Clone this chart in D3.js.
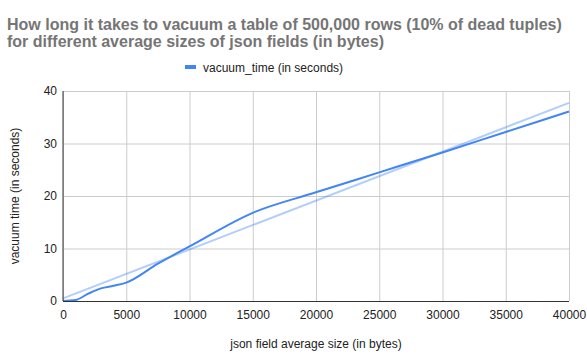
<!DOCTYPE html>
<html>
 <head>
  <style>
  body { margin: 0; background: #fff; }
  svg text { font-family: Arial, "Liberation Sans", sans-serif; }
  </style>
 </head>
 <body>
  <script src="https://cdnjs.cloudflare.com/ajax/libs/d3/7.8.3/d3.min.js"></script>
  <script>
   // data
   const jsonSizes = [0, 1000, 2000, 3000, 4000, 5000, 7500, 10000, 15000, 20000, 25000, 30000, 35000, 40000];
   const vacuumTimes = [0, 0.2, 1.4, 2.4, 2.9, 3.5, 7.1, 10.4, 16.8, 20.7, 24.5, 28.3, 32.2, 36.1];
   const trendEnds = [0, 40000];
   const trendValues = [0.5, 37.75];
   const xTicks = [0, 5000, 10000, 15000, 20000, 25000, 30000, 35000, 40000];
   const yTicks = [0, 10, 20, 30, 40];

   const w = 587, h = 364;
   const padL = 63, padR = 569, padT = 91, padB = 301;
   const blue = "#4285f4";

   const svg = d3.select("body").append("svg")
                 .attr("width", w)
                 .attr("height", h);

   const xScale = d3.scaleLinear().domain([0, 40000]).range([padL, padR]);
   const yScale = d3.scaleLinear().domain([0, 40]).range([padB, padT]);

   // title
   const title = svg.append("text")
      .attr("x", 7)
      .attr("y", 30)
      .attr("fill", "#757575")
      .attr("font-size", 16)
      .attr("font-weight", "bold");
   title.append("tspan").attr("x", 7).text("How long it takes to vacuum a table of 500,000 rows (10% of dead tuples)");
   title.append("tspan").attr("x", 7).attr("dy", 17).text("for different average sizes of json fields (in bytes)");

   // legend
   svg.append("rect")
      .attr("x", 185).attr("y", 65)
      .attr("width", 11).attr("height", 4)
      .attr("fill", blue);
   svg.append("text")
      .attr("x", 203).attr("y", 71.5)
      .attr("font-size", 12)
      .attr("fill", "#222")
      .text("vacuum_time (in seconds)");

   // grid
   const xAxis = d3.axisBottom(xScale).tickValues(xTicks).tickSize(-(padB - padT)).tickPadding(9).tickFormat(d3.format("d"));
   const yAxis = d3.axisLeft(yScale).tickValues(yTicks).tickSize(-(padR - padL)).tickPadding(6);

   const gx = svg.append("g")
      .attr("id", "x-axis")
      .attr("transform", "translate(0," + padB + ")")
      .call(xAxis);
   const gy = svg.append("g")
      .attr("id", "y-axis")
      .attr("transform", "translate(" + padL + ",0)")
      .call(yAxis);
   [gx, gy].forEach(g => {
     g.select(".domain").remove();
     g.selectAll(".tick line").attr("stroke", "#ccc");
     g.selectAll(".tick text").attr("fill", "#222").attr("font-size", 12)
      .style("font-family", "Arial, 'Liberation Sans', sans-serif");
   });

   // axis titles
   svg.append("text")
      .attr("x", 316).attr("y", 348)
      .attr("text-anchor", "middle")
      .attr("font-size", 12)
      .attr("fill", "#222")
      .text("json field average size (in bytes)");
   svg.append("text")
      .attr("transform", "translate(19,196) rotate(-90)")
      .attr("text-anchor", "middle")
      .attr("font-size", 12)
      .attr("fill", "#222")
      .text("vacuum time (in seconds)");

   // trendline
   svg.append("path")
      .datum(trendEnds.map((x, i) => [x, trendValues[i]]))
      .attr("fill", "none")
      .attr("stroke", blue)
      .attr("stroke-opacity", 0.4)
      .attr("stroke-width", 2)
      .attr("d", d3.line().x(d => xScale(d[0])).y(d => yScale(d[1])));

   // series
   svg.append("path")
      .datum(jsonSizes.map((x, i) => [x, vacuumTimes[i]]))
      .attr("fill", "none")
      .attr("stroke", blue)
      .attr("stroke-width", 2)
      .attr("d", d3.line().curve(d3.curveMonotoneX).x(d => xScale(d[0])).y(d => yScale(d[1])));

   // axis lines
   svg.append("line")
      .attr("x1", padL).attr("x2", padL)
      .attr("y1", padT).attr("y2", padB)
      .attr("stroke", "#333");
   svg.append("line")
      .attr("x1", padL).attr("x2", padR)
      .attr("y1", padB + 0.5).attr("y2", padB + 0.5)
      .attr("stroke", "#333");
  </script>
 </body>
</html>
